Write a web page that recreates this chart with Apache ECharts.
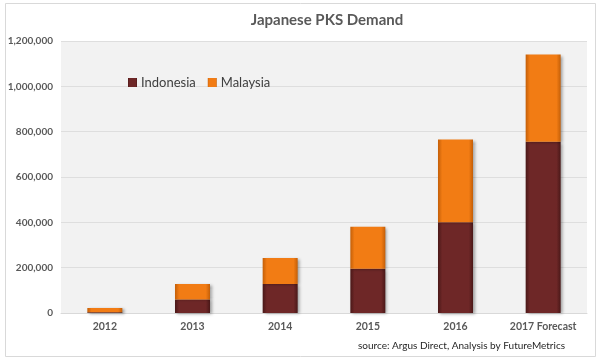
<!DOCTYPE html>
<html><head><meta charset="utf-8">
<script src="https://cdn.jsdelivr.net/npm/echarts@6/dist/echarts.min.js"></script>
<style>html,body{margin:0;padding:0;background:#fff}#c{width:600px;height:360px}</style>
</head><body><div id="c"></div>
<script>
const categories = ['2012','2013','2014','2015','2016','2017 Forecast'];
const indonesia = [3000, 60000, 128000, 195000, 400000, 755000];
const malaysia = [19000, 68000, 115000, 185000, 365000, 385000];
const seriesNames = ['Indonesia','Malaysia'];

const font = 'Lato, "Open Sans", sans-serif';
function grad(c1, c2){
  return new echarts.graphic.LinearGradient(0,0,1,0,[
    {offset:0,color:c2},{offset:0.12,color:c1},{offset:0.88,color:c1},{offset:1,color:c2}]);
}
const chart = echarts.init(document.getElementById('c'), null, {renderer:'canvas'});
chart.setOption({
  backgroundColor:'#fff',
  animation:false,
  title:{text:'Japanese PKS Demand',left:322,top:8,textAlign:'center',
    textStyle:{fontFamily:font,fontSize:15,fontWeight:'bold',color:'#595959'}},
  legend:{left:123,top:71,itemWidth:9,itemHeight:9,itemGap:12,icon:'rect',
    textStyle:{fontFamily:font,fontSize:13,color:'#404040',padding:[0,0,0,-1]},data:seriesNames},
  grid:{left:61,right:13,top:41,bottom:47,show:true,backgroundColor:'#f2f2f2',borderWidth:0},
  xAxis:{type:'category',data:categories,
    axisLine:{show:true,lineStyle:{color:'#d9d9d9'}},axisTick:{show:false},
    axisLabel:{fontFamily:font,fontSize:10.5,fontWeight:'bold',color:'#595959',margin:8}},
  yAxis:{type:'value',min:0,max:1200000,interval:200000,
    axisLine:{show:false},axisTick:{show:false},
    splitLine:{lineStyle:{color:'#dedede'}},
    axisLabel:{fontFamily:font,fontSize:10,fontWeight:'bold',color:'#595959',margin:8,
      formatter:v=>v.toLocaleString('en-US')}},
  graphic:[
    {type:'rect',shape:{x:5.5,y:3.5,width:590,height:353},style:{fill:'none',stroke:'#d9d9d9',lineWidth:1},silent:true,z:-1},
    {type:'text',right:35,bottom:9,style:{text:'source: Argus Direct, Analysis by FutureMetrics',
      font:'10px '+font,fill:'#262626'}}
  ],
  series:[
    {name:'Indonesia',type:'bar',stack:'t',barWidth:35,data:indonesia,
      itemStyle:{color:grad('#6e2727','#4a1818'),shadowColor:'rgba(0,0,0,0.35)',shadowBlur:3,shadowOffsetX:2,shadowOffsetY:1}},
    {name:'Malaysia',type:'bar',stack:'t',barWidth:35,data:malaysia,
      itemStyle:{color:grad('#f27c14','#c45f08'),shadowColor:'rgba(0,0,0,0.35)',shadowBlur:3,shadowOffsetX:2,shadowOffsetY:1}}
  ]
});
</script></body></html>
